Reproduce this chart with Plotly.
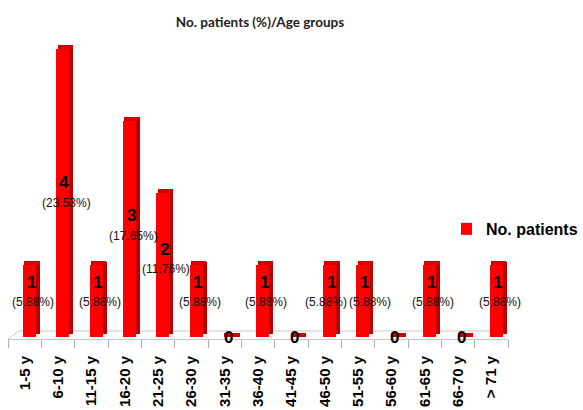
import plotly.graph_objects as go

categories = ["1-5 y", "6-10 y", "11-15 y", "16-20 y", "21-25 y", "26-30 y", "31-35 y",
              "36-40 y", "41-45 y", "46-50 y", "51-55 y", "56-60 y", "61-65 y", "66-70 y", "> 71 y"]
patients = [1, 4, 1, 3, 2, 1, 0, 1, 0, 1, 1, 0, 1, 0, 1]
total = sum(patients)
percents = [p / total * 100 for p in patients]

PX = 72.0            # pixels per patient on the y axis
BASE = 2 / PX        # bars sit slightly behind the front floor edge
DEPTH_Y = 3 / PX
TOP_H = 4 / PX

fig = go.Figure()
# side face (depth)
fig.add_trace(go.Bar(
    x=categories, y=patients, base=[BASE + DEPTH_Y] * len(patients),
    offset=0.33, width=0.13, marker=dict(color="#B80000", line=dict(width=0)),
    showlegend=False, hoverinfo="skip"))
# top face
fig.add_trace(go.Bar(
    x=categories, y=[TOP_H] * len(patients), base=[p + BASE for p in patients],
    offset=-0.01, width=0.46, marker=dict(color="#D40000", line=dict(width=0)),
    showlegend=False, hoverinfo="skip"))
# front face
fig.add_trace(go.Bar(
    x=categories, y=patients, base=[BASE] * len(patients),
    offset=-0.05, width=0.39, name="No. patients",
    marker=dict(color="#FF0000", line=dict(width=0))))

annotations = []
n = len(patients)
for i, (c, v, p) in enumerate(zip(categories, patients, percents)):
    if v == 0:
        annotations.append(dict(x=i + 0.1, y=0.02, xref="x", yref="y", text="<b>0</b>",
                                showarrow=False, font=dict(family="Arial", size=17, color="#000"),
                                yanchor="middle"))
        continue
    # nudge labels apart when a neighbour carries a label at the same height
    nudge = 0.0
    if i + 1 < n and patients[i + 1] == v:
        nudge -= 0.2
    if i > 0 and patients[i - 1] == v:
        nudge += 0.1
    annotations.append(dict(x=i + 0.19, y=0.19 + 0.46 * v, xref="x", yref="y",
                            text=f"<b>{v}</b>", showarrow=False,
                            font=dict(family="Arial", size=17, color="#000"),
                            yanchor="middle", yshift=10))
    annotations.append(dict(x=i + 0.25 + nudge, y=0.19 + 0.46 * v, xref="x", yref="y",
                            text=f"({p:.2f}%)", showarrow=False,
                            font=dict(family="Arial", size=12, color="#111"),
                            yanchor="middle", yshift=-10))

floor_color = "#C8C8C8"
DX, DY = 0.33, 8 / PX
shapes = [
    dict(type="line", xref="x", yref="y", x0=-0.5 + DX, y0=DY, x1=14.5 + DX, y1=DY,
         line=dict(color=floor_color, width=1), layer="below"),
    dict(type="line", xref="x", yref="y", x0=-0.5, y0=0, x1=-0.5 + DX, y1=DY,
         line=dict(color=floor_color, width=1), layer="below"),
    dict(type="line", xref="x", yref="y", x0=14.5, y0=0, x1=14.5 + DX, y1=DY,
         line=dict(color=floor_color, width=1), layer="below"),
]

fig.update_layout(
    width=583, height=410,
    margin=dict(l=8, r=75, t=40, b=71, autoexpand=False),
    paper_bgcolor="white", plot_bgcolor="white",
    barmode="overlay", bargap=0,
    title=dict(text="<b>No. patients (%)/Age groups</b>", x=0.446, xanchor="center",
               y=1 - 22 / 410, yanchor="middle", yref="container",
               font=dict(family="Lato", size=13.5, color="#222")),
    legend=dict(x=1.0, y=0.368, xanchor="right", yanchor="middle", xref="container",
                indentation=-15, itemwidth=30,
                font=dict(family="Arial", size=16, color="#000", weight="bold"),
                bgcolor="rgba(0,0,0,0)"),
    annotations=annotations,
    shapes=shapes,
    xaxis=dict(type="category", range=[-0.5, 14.5], tickangle=-90,
               ticks="outside", tickson="boundaries", ticklen=8, tickcolor="#B0B0B0",
               showline=True, linecolor=floor_color, linewidth=1, showgrid=False,
               ticklabelstandoff=10, automargin=False,
               tickfont=dict(family="Arial", size=15, color="#000", weight="bold")),
    yaxis=dict(range=[0, 299 / PX], visible=False, showgrid=False, zeroline=False,
               automargin=False),
)

fig.write_html("out.html", config={"displayModeBar": False},
               post_script="document.body.style.margin='0';")
